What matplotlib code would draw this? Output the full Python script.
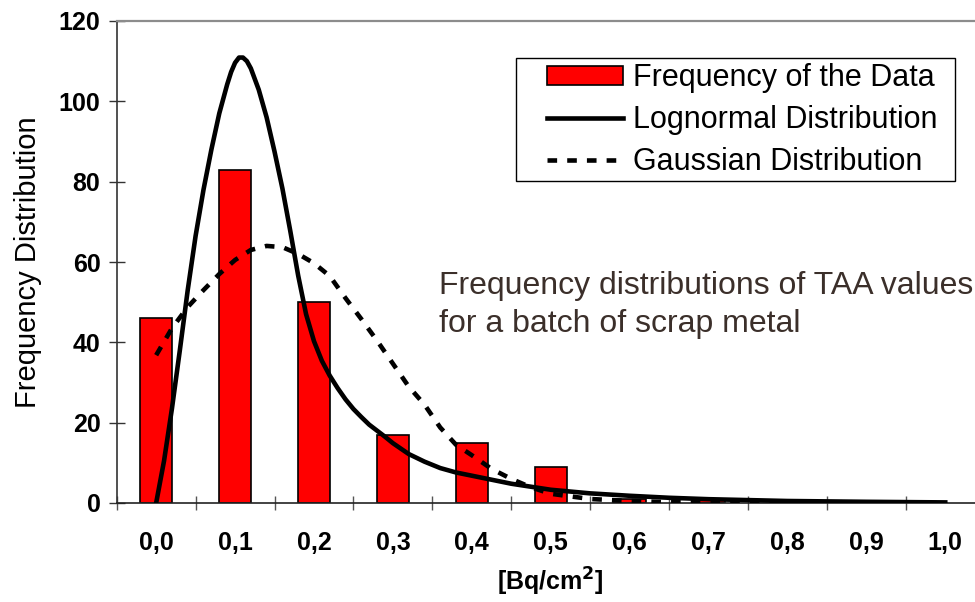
import matplotlib.pyplot as plt
from matplotlib.lines import Line2D
from matplotlib.patches import Rectangle

plt.rcParams['font.family'] = ['Liberation Sans', 'DejaVu Sans']

# measured frequencies per class
bin_centers = [0.0, 0.1, 0.2, 0.3, 0.4, 0.5, 0.6, 0.7]
freq = [46, 83, 50, 17, 15, 9, 1, 1]

# fitted curves
logn_x = [0.0, 0.01, 0.02, 0.03, 0.04, 0.05, 0.06, 0.07, 0.08, 0.09, 0.095, 0.1,
          0.105, 0.11, 0.115, 0.12, 0.13, 0.14, 0.15, 0.16, 0.17, 0.18, 0.19, 0.2,
          0.21, 0.22, 0.23, 0.24, 0.25, 0.26, 0.27, 0.28, 0.29, 0.3, 0.32, 0.34,
          0.36, 0.38, 0.4, 0.45, 0.5, 0.55, 0.6, 0.65, 0.7, 0.8, 0.9, 1.0]
logn_y = [0, 10.5, 23.5, 38.0, 53.0, 66.5, 78.0, 88.0, 97.0, 104.2, 107.3, 109.6,
          110.9, 110.9, 110.0, 108.2, 102.9, 96.0, 87.5, 78.3, 67.7, 56.6, 47.0, 40.3,
          35.4, 31.7, 28.6, 25.8, 23.4, 21.4, 19.5, 18.0, 16.5, 14.9, 12.2, 10.3,
          8.7, 7.6, 6.8, 4.8, 3.3, 2.4, 1.8, 1.3, 0.95, 0.5, 0.3, 0.15]

gauss_x = [0.0, 0.02, 0.04, 0.06, 0.08, 0.1, 0.12, 0.14, 0.16, 0.18, 0.2, 0.22,
           0.24, 0.26, 0.28, 0.3, 0.32, 0.34, 0.36, 0.38, 0.4, 0.425, 0.45, 0.475,
           0.5, 0.55, 0.6, 0.65, 0.7, 0.8, 0.9, 1.0]
gauss_y = [36.8, 43.5, 48.8, 53.0, 57.0, 60.5, 63.0, 64.0, 63.7, 62.0, 59.7, 56.5,
           51.0, 45.8, 40.4, 34.7, 29.0, 24.5, 18.8, 14.5, 11.9, 8.5, 6.0, 3.9,
           2.3, 1.0, 0.5, 0.2, 0.1, 0.0, 0.0, 0.0]

x_labels = ['0,0', '0,1', '0,2', '0,3', '0,4', '0,5', '0,6', '0,7', '0,8', '0,9', '1,0']
x_label_pos = [i / 10 for i in range(11)]
x_tick_pos = [-0.05 + i / 10 for i in range(12)]
y_ticks = [0, 20, 40, 60, 80, 100, 120]


def main():
    fig = plt.figure(figsize=(9.75, 6.02), dpi=100)
    ax = fig.add_axes([116.7 / 975, 99 / 602, 868 / 975, 482 / 602])

    bars = ax.bar(bin_centers, freq, width=0.041, color='#ff0000', edgecolor='black',
                  linewidth=1.2, zorder=2)
    dash = (2.1, 2.2)
    ax.plot(gauss_x, gauss_y, color='black', lw=3.3, dashes=dash, zorder=3)
    ax.plot(logn_x, logn_y, color='black', lw=3.3, zorder=4, solid_joinstyle='round')

    ax.set_xlim(-0.05, 1.05)
    ax.set_ylim(0, 120)

    ax.set_xticks(x_tick_pos)
    ax.set_xticklabels([])
    ax.set_xticks(x_label_pos, minor=True)
    ax.set_xticklabels(x_labels, minor=True, fontsize=18, fontweight='bold')
    ax.tick_params(axis='x', which='major', direction='inout', length=10, width=1,
                   color='#555555')
    ax.tick_params(axis='x', which='minor', length=0, pad=20)

    ax.set_yticks(y_ticks)
    ax.set_yticklabels([str(v) for v in y_ticks], fontsize=18, fontweight='bold')
    ax.tick_params(axis='y', direction='inout', length=11.5, width=1, color='#333333', pad=6)

    ax.spines['top'].set_color('#8c8c8c')
    ax.spines['top'].set_linewidth(1.6)
    ax.spines['left'].set_color('#333333')
    ax.spines['left'].set_linewidth(1.2)
    ax.spines['bottom'].set_color('#222222')
    ax.spines['bottom'].set_linewidth(1.2)
    ax.spines['right'].set_visible(False)

    ax.set_xlabel(r'[Bq/cm$^\mathbf{2}$]', fontsize=18, fontweight='bold', labelpad=8)
    ax.set_ylabel('Frequency Distribution', fontsize=21)
    ax.yaxis.set_label_coords(-0.086, 0.5)

    ax.text(0.358, 49.2, 'Frequency distributions of TAA values\nfor a batch of scrap metal',
            fontsize=23, color='#3b2f2a', va='center', ha='left', linespacing=1.35)

    # legend box
    box = Rectangle((516 / 975, 1 - 181 / 602), 439 / 975, 123 / 602,
                    transform=fig.transFigure, facecolor='white', edgecolor='black',
                    linewidth=1.0, zorder=4)
    fig.add_artist(box)

    handles = [bars.patches[0],
               Line2D([], [], color='black', lw=3.3),
               Line2D([], [], color='black', lw=3.3, dashes=dash)]
    labels = ['Frequency of the Data', 'Lognormal Distribution', 'Gaussian Distribution']
    fig.legend(handles, labels, loc='upper left', bbox_to_anchor=(547 / 975, 1 - 63 / 602),
               borderaxespad=0, borderpad=0, fontsize=22, frameon=False,
               handlelength=2.5, handleheight=0.6, handletextpad=0.33, labelspacing=0.39)

    fig.savefig('out.png', dpi=100)


if __name__ == '__main__':
    main()
